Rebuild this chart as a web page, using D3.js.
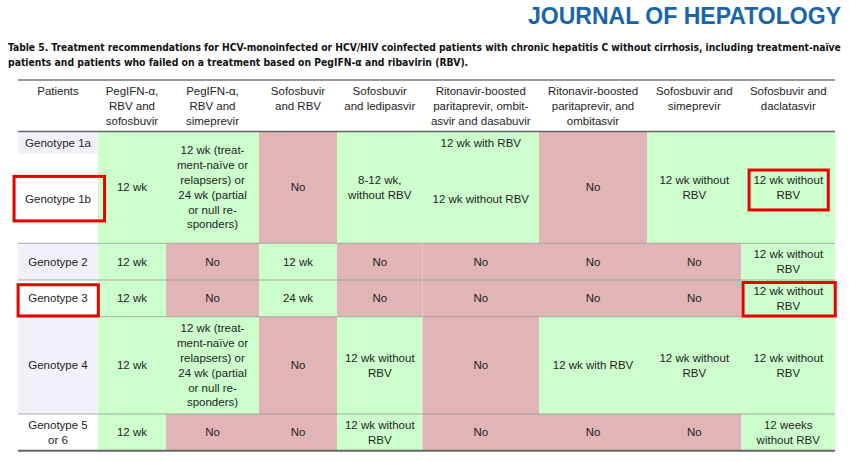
<!DOCTYPE html>
<html><head><meta charset="utf-8">
<script src="https://cdn.jsdelivr.net/npm/d3@7"></script>
<style>body{margin:0;background:#fff}svg{display:block}</style>
</head><body>
<script>
// ---------------- data ----------------
const journalTitle = "JOURNAL OF HEPATOLOGY";
const captionLines = [
  "Table 5. Treatment recommendations for HCV-monoinfected or HCV/HIV coinfected patients with chronic hepatitis C without cirrhosis, including treatment-naïve",
  "patients and patients who failed on a treatment based on PegIFN-α and ribavirin (RBV)."
];
const patientHeader = ["Patients"];
const treatments = [
  ["PegIFN-α,", "RBV and", "sofosbuvir"],
  ["PegIFN-α,", "RBV and", "simeprevir"],
  ["Sofosbuvir", "and RBV"],
  ["Sofosbuvir", "and ledipasvir"],
  ["Ritonavir-boosted", "paritaprevir, ombit-", "asvir and dasabuvir"],
  ["Ritonavir-boosted", "paritaprevir, and", "ombitasvir"],
  ["Sofosbuvir and", "simeprevir"],
  ["Sofosbuvir and", "daclatasvir"]
];
const patients = [["Genotype 1a"], ["Genotype 1b"], ["Genotype 2"], ["Genotype 3"], ["Genotype 4"], ["Genotype 5", "or 6"]];
const simeprevirRegimen = ["12 wk (treat-", "ment-naïve or", "relapsers) or", "24 wk (partial", "or null re-", "sponders)"];
const genotype1a = [["12 wk"], simeprevirRegimen, ["No"], ["8-12 wk,", "without RBV"], ["12 wk with RBV"], ["No"], ["12 wk without", "RBV"], ["12 wk without", "RBV"]];
const genotype1b = [["12 wk"], simeprevirRegimen, ["No"], ["8-12 wk,", "without RBV"], ["12 wk without RBV"], ["No"], ["12 wk without", "RBV"], ["12 wk without", "RBV"]];
const genotype2 = [["12 wk"], ["No"], ["12 wk"], ["No"], ["No"], ["No"], ["No"], ["12 wk without", "RBV"]];
const genotype3 = [["12 wk"], ["No"], ["24 wk"], ["No"], ["No"], ["No"], ["No"], ["12 wk without", "RBV"]];
const genotype4 = [["12 wk"], simeprevirRegimen, ["No"], ["12 wk without", "RBV"], ["No"], ["12 wk with RBV"], ["12 wk without", "RBV"], ["12 wk without", "RBV"]];
const genotype56 = [["12 wk"], ["No"], ["No"], ["12 wk without", "RBV"], ["No"], ["No"], ["No"], ["12 weeks", "without RBV"]];
const recommendations = [genotype1a, genotype1b, genotype2, genotype3, genotype4, genotype56];
// highlighted cells: [patient row index, column index (0 = Patients)]
const highlighted = [[1, 0], [3, 0], [1, 8], [3, 8]];

// ---------------- layout / style ----------------
const W = 849, H = 462;
const colEdges = [18, 98, 166, 259, 337, 422.5, 539, 647, 741.5, 835];
const headerTop = 80, headerBottom = 131.5;
const rowEdges = [131.5, 154, 243.3, 280, 316.7, 414, 450.7];
const GREEN = "#ccffcc", PINK = "#e1b5b5", LAV = "#f1f1fa";
const TEXT = "#1e1e1e";
const FONT = "'Liberation Sans', Arial, sans-serif";
const FS = 11.5, LH = 14.8;
const boxStyle = [
  {dx: 1.3, dy: 0, w: 90.5, h: 44.5},
  {dx: 0.2, dy: 2, w: 80.2, h: 31.2},
  {dx: 0.4, dy: 2.6, w: 79.2, h: 39.9},
  {dx: 0.9, dy: 0.9, w: 92.2, h: 33.5}
];

const x = d3.scaleLinear().domain(d3.range(colEdges.length)).range(colEdges);
const y = d3.scaleLinear().domain(d3.range(rowEdges.length)).range(rowEdges);

const svg = d3.select("body").append("svg").attr("width", W).attr("height", H)
  .style("background", "#fff");

// journal title
svg.append("text").attr("x", 841).attr("y", 24).attr("text-anchor", "end")
  .attr("font-family", FONT).attr("font-weight", "bold").attr("font-size", 23)
  .attr("fill", "#1a65a9").attr("textLength", 313).attr("lengthAdjust", "spacingAndGlyphs")
  .text(journalTitle);

// caption (horizontally scaled to the measured target widths)
const capLen = [834, 461];
svg.selectAll("text.cap").data(captionLines).join("text").attr("class", "cap")
  .attr("x", 0).attr("y", 0)
  .attr("font-family", "'Liberation Sans Narrow', 'DejaVu Sans Condensed', sans-serif")
  .attr("font-weight", "bold").attr("font-size", 10.8).attr("fill", "#111")
  .text(d => d)
  .each(function(d, i) {
    const w = this.getComputedTextLength();
    const sx = capLen[i] / w;
    d3.select(this).attr("transform", `translate(8,${50.5 + i * 15.5}) scale(${sx},1)`);
  });

// build cells (merge genotype 1a / 1b where identical)
const cells = [];
patients.forEach((p, r) => {
  cells.push({r0: r, r1: r + 1, c: 0, lines: p, fill: r % 2 === 0 ? LAV : "#fff"});
});
for (let c = 0; c < treatments.length; c++) {
  let r = 0;
  while (r < recommendations.length) {
    const v = recommendations[r][c];
    let r1 = r + 1;
    if (r === 0 && JSON.stringify(recommendations[1][c]) === JSON.stringify(v)) r1 = 2;
    cells.push({r0: r, r1, c: c + 1, lines: v, fill: v[0] === "No" ? PINK : GREEN});
    r = r1;
  }
}

const g = svg.append("g");
g.selectAll("rect.cell").data(cells).join("rect").attr("class", "cell")
  .attr("x", d => x(d.c)).attr("y", d => y(d.r0))
  .attr("width", d => x(d.c + 1) - x(d.c)).attr("height", d => y(d.r1) - y(d.r0))
  .attr("fill", d => d.fill);

function drawLines(sel, cx, cy, lines) {
  const n = lines.length;
  lines.forEach((t, i) => {
    sel.append("text").attr("x", cx).attr("y", cy + (i - (n - 1) / 2) * LH)
      .attr("dy", "0.35em").attr("text-anchor", "middle")
      .attr("font-family", FONT).attr("font-size", FS).attr("fill", TEXT).text(t);
  });
}
const tg = svg.append("g");
cells.forEach(d => {
  drawLines(tg, (x(d.c) + x(d.c + 1)) / 2, (y(d.r0) + y(d.r1)) / 2, d.lines);
});

// header
const headers = [patientHeader].concat(treatments);
headers.forEach((h, c) => {
  h.forEach((t, i) => {
    tg.append("text").attr("x", (x(c) + x(c + 1)) / 2).attr("y", 91 + i * 15)
      .attr("dy", "0.35em").attr("text-anchor", "middle")
      .attr("font-family", FONT).attr("font-size", FS).attr("fill", TEXT).text(t);
  });
});

// rules
const L = colEdges[0], R = colEdges[colEdges.length - 1];
svg.append("line").attr("x1", L).attr("x2", R).attr("y1", headerTop).attr("y2", headerTop)
  .attr("stroke", "#777").attr("stroke-width", 1.5);
svg.append("line").attr("x1", L).attr("x2", R).attr("y1", headerBottom).attr("y2", headerBottom)
  .attr("stroke", "#666").attr("stroke-width", 1.5);
[2, 3, 4, 5].forEach(i => {
  svg.append("line").attr("x1", L).attr("x2", R).attr("y1", y(i)).attr("y2", y(i))
    .attr("stroke", "#9a9a9a").attr("stroke-opacity", 0.8).attr("stroke-width", 1);
});
svg.append("line").attr("x1", L).attr("x2", R).attr("y1", y(6)).attr("y2", y(6))
  .attr("stroke", "#666").attr("stroke-width", 2);

// highlight boxes
highlighted.forEach(([r, c], i) => {
  const cell = cells.find(d => d.c === c && d.r0 <= r && d.r1 > r);
  const rr = c === 0 ? r : cell.r0, rr1 = c === 0 ? r + 1 : cell.r1;
  const cx = (x(c) + x(c + 1)) / 2 + boxStyle[i].dx;
  const cy = (y(rr) + y(rr1)) / 2 + boxStyle[i].dy;
  svg.append("rect").attr("x", cx - boxStyle[i].w / 2).attr("y", cy - boxStyle[i].h / 2)
    .attr("width", boxStyle[i].w).attr("height", boxStyle[i].h)
    .attr("fill", "none").attr("stroke", "#e80000").attr("stroke-width", 3);
});
</script>
</body></html>
